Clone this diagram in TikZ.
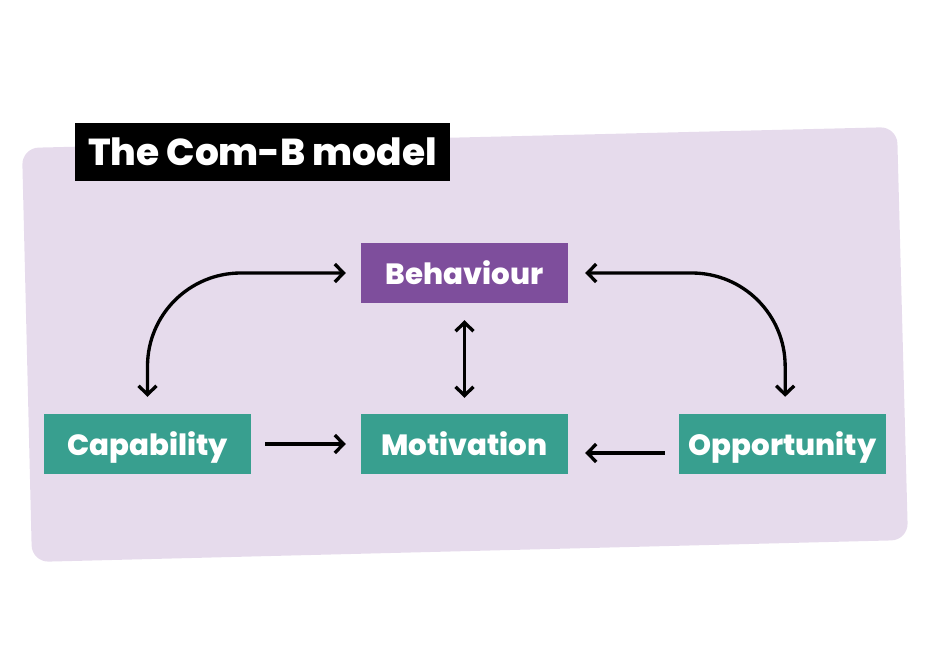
\documentclass[tikz,border=0pt]{standalone}
\usepackage{fontspec}
\setmainfont{Poppins}[BoldFont={Poppins ExtraBold}]
\usetikzlibrary{positioning,arrows.meta}
\definecolor{bgpurple}{HTML}{E6DBEC}
\definecolor{behpurple}{HTML}{7E4E9C}
\definecolor{comteal}{HTML}{389F8F}

\begin{document}
\begin{tikzpicture}[x=0.3mm,y=-0.3mm,>={Straight Barb[length=2.6mm,width=5.4mm]},
  box/.style={minimum width=62.1mm,minimum height=18mm,inner sep=0pt,text=white,
    text height=22pt,text depth=3.2pt,font=\fontsize{25}{28}\selectfont\bfseries},
  link/.style={line width=1mm}]
\useasboundingbox (0,0) rectangle (927,670);
\fill[bgpurple,rounded corners=5mm] (22,148) -- (897,127) -- (908,540) -- (32,562) -- cycle;
\node[fill=black,text=white,minimum width=112.5mm,minimum height=17.4mm,inner sep=0pt,
  font=\fontsize{32}{35}\selectfont\bfseries] (title) at (262.5,152) {The Com-B model};
\node[box,fill=behpurple] (beh) at (464.5,273) {Behaviour};
\node[box,fill=comteal] (cap) at (147.5,444) {Capability};
\node[box,fill=comteal] (mot) at (464.5,444) {Motivation};
\node[box,fill=comteal] (opp) at (782.5,444) {Opportunity};
\draw[link,->,shorten <=4.2mm,shorten >=4.5mm] (cap) -- (mot);
\draw[link,->,shorten <=4.2mm,shorten >=5.1mm] ([yshift=-2.7mm]opp.west) -- ([yshift=-2.7mm]mot.east);
\draw[link,<->,shorten <=5.1mm,shorten >=4.8mm] (beh) -- (mot);
\draw[link,<->,rounded corners=28mm,shorten <=5.1mm,shorten >=4.5mm] (cap.north) |- (beh.west);
\draw[link,<->,rounded corners=28mm,shorten <=5.1mm,shorten >=5.1mm] (beh.east) -| ([xshift=0.8mm]opp.north);
\end{tikzpicture}
\end{document}
